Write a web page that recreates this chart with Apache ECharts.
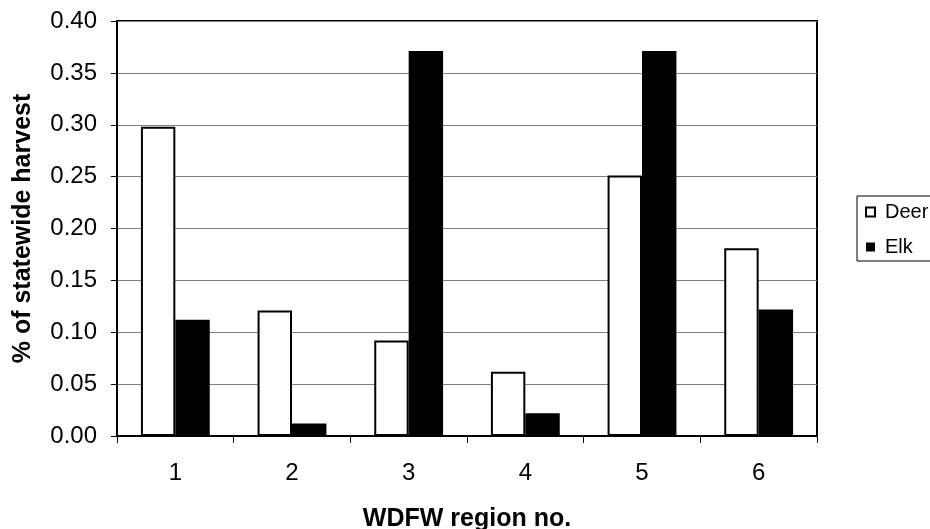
<!DOCTYPE html>
<html>
<head>
<meta charset="utf-8">
<script src="https://cdn.jsdelivr.net/npm/echarts@6/dist/echarts.min.js"></script>
<style>
html,body{margin:0;padding:0;background:#fff;}
#chart{width:930px;height:529px;}
</style>
</head>
<body>
<div id="chart"></div>
<script>
var categories = ['1', '2', '3', '4', '5', '6'];
var deer = [0.298, 0.121, 0.092, 0.062, 0.251, 0.181];
var elk = [0.112, 0.012, 0.371, 0.022, 0.371, 0.122];
var yTicks = { min: 0, max: 0.40, interval: 0.05 };

var FONT = '"Liberation Sans", Arial, sans-serif';
var chart = echarts.init(document.getElementById('chart'), null, { renderer: 'canvas' });
chart.setOption({
  animation: false,
  backgroundColor: '#ffffff',
  textStyle: { fontFamily: FONT, color: '#000' },
  grid: {
    left: 117, top: 21, width: 700, height: 415,
    containLabel: false, outerBoundsMode: 'none',
    show: true, borderColor: '#000', borderWidth: 2, backgroundColor: 'transparent'
  },
  legend: {
    orient: 'vertical',
    left: 857, top: 196,
    padding: [6, 40, 4, 8],
    itemWidth: 9, itemHeight: 9, itemGap: 15,
    borderColor: '#000', borderWidth: 1,
    icon: 'rect',
    textStyle: { fontFamily: FONT, fontSize: 20, color: '#000', padding: [0, 0, 0, 5] },
    data: [
      { name: 'Deer', itemStyle: { color: '#fff', borderColor: '#000', borderWidth: 2 } },
      { name: 'Elk', itemStyle: { color: '#000', borderColor: '#000', borderWidth: 0 } }
    ]
  },
  xAxis: {
    type: 'category',
    data: categories,
    name: 'WDFW region no.',
    nameLocation: 'middle',
    nameGap: 71,
    nameTextStyle: { fontFamily: FONT, fontSize: 25, fontWeight: 'bold', color: '#000' },
    axisLine: { show: true, lineStyle: { color: '#000', width: 2 } },
    axisTick: { show: true, length: 7, lineStyle: { color: '#000', width: 1 } },
    axisLabel: { fontFamily: FONT, fontSize: 24, color: '#000', margin: 25 },
    splitLine: { show: false }
  },
  yAxis: {
    type: 'value',
    min: yTicks.min, max: yTicks.max, interval: yTicks.interval,
    name: '% of statewide harvest',
    nameLocation: 'middle',
    nameGap: 81,
    nameTextStyle: { fontFamily: FONT, fontSize: 25, fontWeight: 'bold', color: '#000' },
    axisLine: { show: true, lineStyle: { color: '#000', width: 2 } },
    axisTick: { show: true, length: 6, lineStyle: { color: '#000', width: 1 } },
    axisLabel: { fontFamily: FONT, fontSize: 24, color: '#000', margin: 20,
      formatter: function (v) { return v.toFixed(2); } },
    splitLine: { show: true, lineStyle: { color: '#808080', width: 1 } }
  },
  series: [
    {
      name: 'Deer', type: 'bar', data: deer,
      barGap: '0%', barCategoryGap: '41%',
      itemStyle: { color: '#fff', borderColor: '#000', borderWidth: 2 }
    },
    {
      name: 'Elk', type: 'bar', data: elk,
      barGap: '0%', barCategoryGap: '41%',
      itemStyle: { color: '#000', borderColor: '#000', borderWidth: 0 }
    }
  ]
});
</script>
</body>
</html>
